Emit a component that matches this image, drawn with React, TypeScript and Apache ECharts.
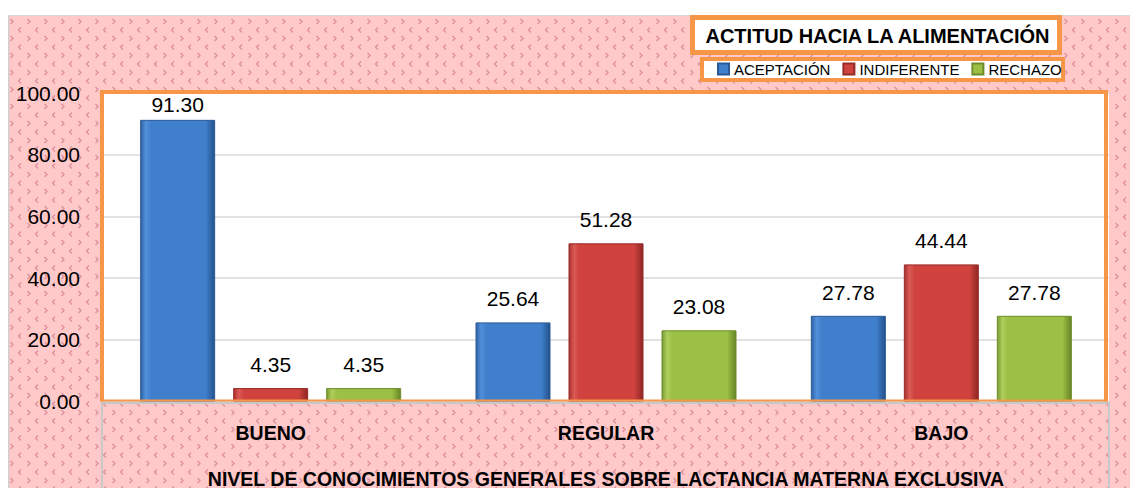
import React, { useEffect, useRef } from "react";
import * as echarts from "echarts";

const categories = ["BUENO", "REGULAR", "BAJO"];
const seriesNames = ["ACEPTACIÓN", "INDIFERENTE", "RECHAZO"];
const aceptacion = [91.3, 25.64, 27.78];
const indiferente = [4.35, 51.28, 44.44];
const rechazo = [4.35, 23.08, 27.78];
const yTicks = { min: 0, max: 100, interval: 20 };

const FONT = "'Liberation Sans', Arial, sans-serif";
const ORANGE = "#F79646";

const patternSvg = `<svg xmlns='http://www.w3.org/2000/svg' width='17' height='17'><g fill='none' stroke='#DC8E9C' stroke-width='1.3'><polyline points='13.5,1 16,3.5 13.5,6'/><polyline points='7,9.5 4.5,12 7,14.5'/></g></svg>`;
const patternUrl = `url("data:image/svg+xml;utf8,${encodeURIComponent(patternSvg)}")`;

function grad(edge: string, face: string, light: string, dark: string) {
  return new echarts.graphic.LinearGradient(0, 0, 1, 0, [
    { offset: 0, color: edge },
    { offset: 0.07, color: light },
    { offset: 0.14, color: face },
    { offset: 0.88, color: face },
    { offset: 1, color: dark },
  ]);
}

export default function App() {
  const ref = useRef<HTMLDivElement>(null);
  useEffect(() => {
    if (!ref.current) return;
    const chart = echarts.init(ref.current, null, { renderer: "svg" });
    const styles = [
      { color: grad("#2F63A6", "#3F7FCC", "#5290DA", "#24528C"), borderColor: "#2A5995" },
      { color: grad("#A8302C", "#CF423E", "#DA5A55", "#8E2724"), borderColor: "#962A27" },
      { color: grad("#7A9B33", "#9BC044", "#AECF5C", "#678527"), borderColor: "#6E8C2C" },
    ];
    const values = [aceptacion, indiferente, rechazo];
    const series = seriesNames.map((name, i) => ({
      name,
      type: "bar",
      barWidth: 75,
      barGap: "24%",
      itemStyle: { ...styles[i], borderWidth: 1 },
      label: {
        show: true,
        position: "top",
        distance: 13,
        color: "#000",
        fontFamily: FONT,
        fontSize: 21,
        formatter: (p: any) => Number(p.value).toFixed(2),
      },
      data: values[i].map((v) =>
        v > 85 ? { value: v, label: { distance: 5 } } : v
      ),
    }));
    chart.setOption({
      animation: false,
      backgroundColor: "transparent",
      grid: {
        left: 95,
        top: 78,
        right: 21,
        bottom: 86.5,
        outerBoundsMode: "none",
        containLabel: false,
        show: true,
        backgroundColor: "#FFFFFF",
        borderWidth: 0,
      },
      legend: {
        data: seriesNames,
        left: 709,
        top: 46.5,
        padding: 0,
        itemWidth: 11,
        itemHeight: 11,
        itemGap: 12,
        icon: "rect",
        textStyle: { color: "#000", fontFamily: FONT, fontSize: 15 },
      },
      xAxis: {
        type: "category",
        data: categories,
        axisLine: { show: false },
        axisTick: { show: false },
        axisLabel: {
          margin: 21,
          color: "#000",
          fontFamily: FONT,
          fontWeight: "bold",
          fontSize: 19.5,
        },
        name: "NIVEL DE CONOCIMIENTOS GENERALES SOBRE LACTANCIA MATERNA EXCLUSIVA",
        nameLocation: "middle",
        nameGap: 67,
        nameTextStyle: {
          color: "#000",
          fontFamily: FONT,
          fontWeight: "bold",
          fontSize: 19.5,
        },
      },
      yAxis: {
        type: "value",
        min: yTicks.min,
        max: yTicks.max,
        interval: yTicks.interval,
        axisLine: { show: false },
        axisTick: { show: false },
        splitLine: { lineStyle: { color: "#D9D9D9", width: 1.5 } },
        axisLabel: {
          margin: 23,
          color: "#000",
          fontFamily: FONT,
          fontSize: 21,
          formatter: (v: number) => v.toFixed(2),
        },
      },
      graphic: [
        { type: "line", z: 50, shape: { x1: 0.5, y1: 0, x2: 0.5, y2: 473 }, style: { stroke: "#CFCFCF", lineWidth: 1.5 } },
        { type: "line", z: 50, shape: { x1: 0, y1: 0.5, x2: 1122, y2: 0.5 }, style: { stroke: "#D8D8D8", lineWidth: 1 } },
        {
          type: "polyline",
          z: 50,
          shape: { points: [[94, 386.5], [94, 77], [1098, 77], [1098, 386.5]] },
          style: { stroke: ORANGE, lineWidth: 4, fill: null },
        },
        { type: "line", z: 50, shape: { x1: 92, y1: 385.5, x2: 1100, y2: 385.5 }, style: { stroke: ORANGE, lineWidth: 2 } },
        {
          type: "polyline",
          z: 50,
          shape: { points: [[94, 473], [94, 388], [1101, 388], [1101, 473]] },
          style: { stroke: "#C8C8C8", lineWidth: 2, fill: null },
        },
        {
          type: "rect",
          z: 50,
          shape: { x: 684.5, y: 2.5, width: 367, height: 35 },
          style: { fill: "#FFFFFF", stroke: ORANGE, lineWidth: 5 },
        },
        {
          type: "text",
          z: 51,
          x: 869.5,
          y: 21,
          style: {
            text: "ACTITUD HACIA LA ALIMENTACIÓN",
            fill: "#000",
            font: `bold 20px ${FONT}`,
            textAlign: "center",
            textVerticalAlign: "middle",
          },
        },
        {
          type: "rect",
          z: -1,
          shape: { x: 694, y: 44, width: 361, height: 21 },
          style: { fill: "#FFFFFF", stroke: ORANGE, lineWidth: 4 },
        },
      ],
      series,
    });
    return () => chart.dispose();
  }, []);
  return (
    <div
      ref={ref}
      style={{
        position: "fixed",
        left: 8,
        top: 15,
        width: 1122,
        height: 473,
        backgroundColor: "#FFC9C9",
        backgroundImage: patternUrl,
        backgroundPosition: "6px 3px",
      }}
    />
  );
}
